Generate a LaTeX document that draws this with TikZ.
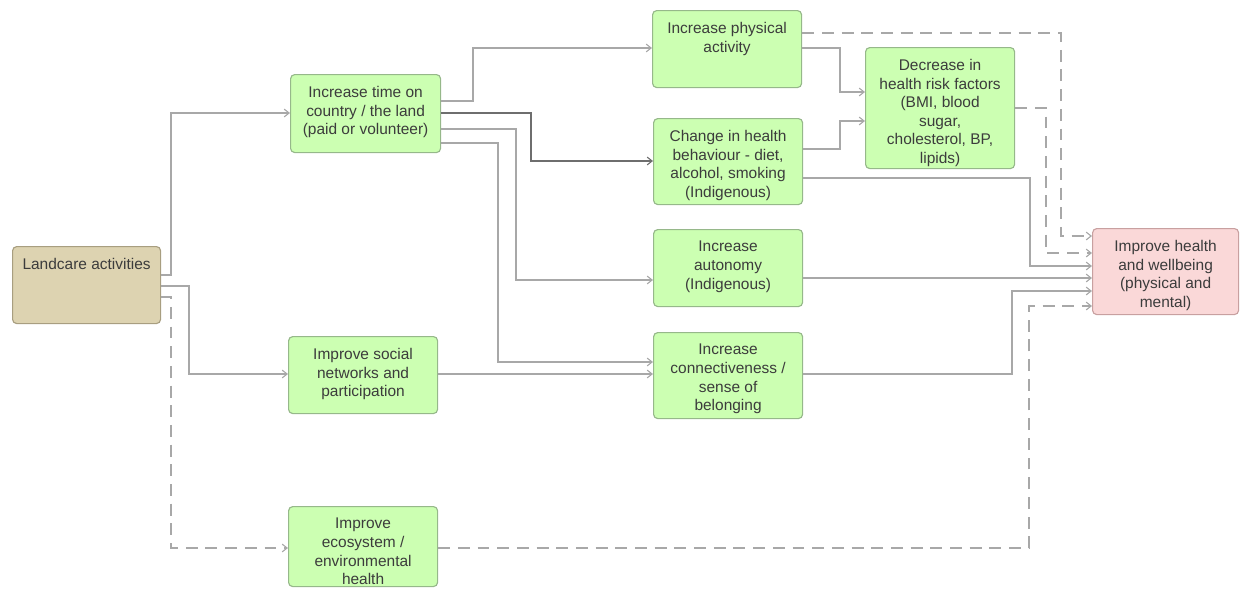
\documentclass[tikz,border=0pt]{standalone}
\usepackage{fontspec}
\setmainfont{Liberation Sans}
\usetikzlibrary{arrows.meta}
\definecolor{boxgreen}{RGB}{204,255,178}
\definecolor{edgegreen}{RGB}{150,184,138}
\definecolor{boxtan}{RGB}{221,211,177}
\definecolor{edgetan}{RGB}{168,158,128}
\definecolor{boxpink}{RGB}{250,216,216}
\definecolor{edgepink}{RGB}{200,160,160}
\definecolor{textgrey}{RGB}{60,60,60}
\definecolor{linegrey}{RGB}{168,168,168}
\definecolor{darkgrey}{RGB}{110,110,110}
\begin{document}
\begin{tikzpicture}
[x=0.025cm, y=-0.025cm,
  greendecorate/.style={draw=edgegreen,fill=boxgreen,line width=0.8pt,rounded corners=3pt,anchor=north west,inner sep=0pt},%
  tandecorate/.style={greendecorate,draw=edgetan,fill=boxtan},%
  pinkdecorate/.style={greendecorate,draw=edgepink,fill=boxpink},%
  labeldecorate/.style={anchor=north,align=center,inner sep=0pt,text=textgrey,font=\fontsize{11}{13.2}\selectfont},%
  linedecorate/.style={draw=linegrey,line width=0.8pt,-{Straight Barb[length=3.5pt,width=5.5pt]}},%
  dashdecorate/.style={linedecorate,dash pattern=on 8.5pt off 5.5pt},%
  darkdecorate/.style={linedecorate,draw=darkgrey}]
\useasboundingbox (0,0) rectangle (1240,592);
%% boxes and their texts
\foreach \nodename/\kind/\x/\y/\w/\h/\txt in {
  land/tandecorate/12/246/3.7/1.925/{Landcare activities},
  time/greendecorate/290/74/3.75/1.95/{Increase time on\\country / the land\\(paid or volunteer)},
  phys/greendecorate/652/10/3.725/1.925/{Increase physical\\activity},
  chg/greendecorate/653/118/3.725/2.15/{Change in health\\behaviour - diet,\\alcohol, smoking\\(Indigenous)},
  dec/greendecorate/865/47/3.725/3.025/{Decrease in\\health risk factors\\(BMI, blood\\sugar,\\cholesterol, BP,\\lipids)},
  auto/greendecorate/653/229/3.725/1.925/{Increase\\autonomy\\(Indigenous)},
  conn/greendecorate/653/332/3.725/2.15/{Increase\\connectiveness /\\sense of\\belonging},
  soc/greendecorate/288/336/3.725/1.925/{Improve social\\networks and\\participation},
  eco/greendecorate/288/506/3.725/2.0/{Improve\\ecosystem /\\environmental\\health},
  imp/pinkdecorate/1092/228/3.65/2.15/{Improve health\\and wellbeing\\(physical and\\mental)}} {
  \node (\nodename) at (\x,\y) [\kind,minimum width=\w cm,minimum height=\h cm] {};
  \node [labeldecorate] at ([yshift=-8.5pt]\nodename.north) {\txt};
}
%% connectors
\foreach \startnode/\ya/\xm/\yb/\endnode/\kind in {
  land/275/171/113/time/linedecorate, land/286/189/374/soc/linedecorate,
  land/297/171/548/eco/dashdecorate, time/101/473/48/phys/linedecorate,
  time/113/531/161/chg/darkdecorate, time/129/516/280/auto/linedecorate,
  time/143/498/362/conn/linedecorate, soc/374/545/374/conn/linedecorate,
  phys/48/840/92/dec/linedecorate, chg/149/840/121/dec/linedecorate,
  phys/33/1061/236/imp/dashdecorate, dec/108/1046/253/imp/dashdecorate,
  chg/178/1030/266/imp/linedecorate, auto/278/1000/278/imp/linedecorate,
  conn/374/1012/291/imp/linedecorate, eco/548/1029/306/imp/dashdecorate} {
  \draw [\kind] (\startnode.east |- 0,\ya) -| (\xm,\yb) -- (\endnode.west |- 0,\yb);
}
\end{tikzpicture}
\end{document}
